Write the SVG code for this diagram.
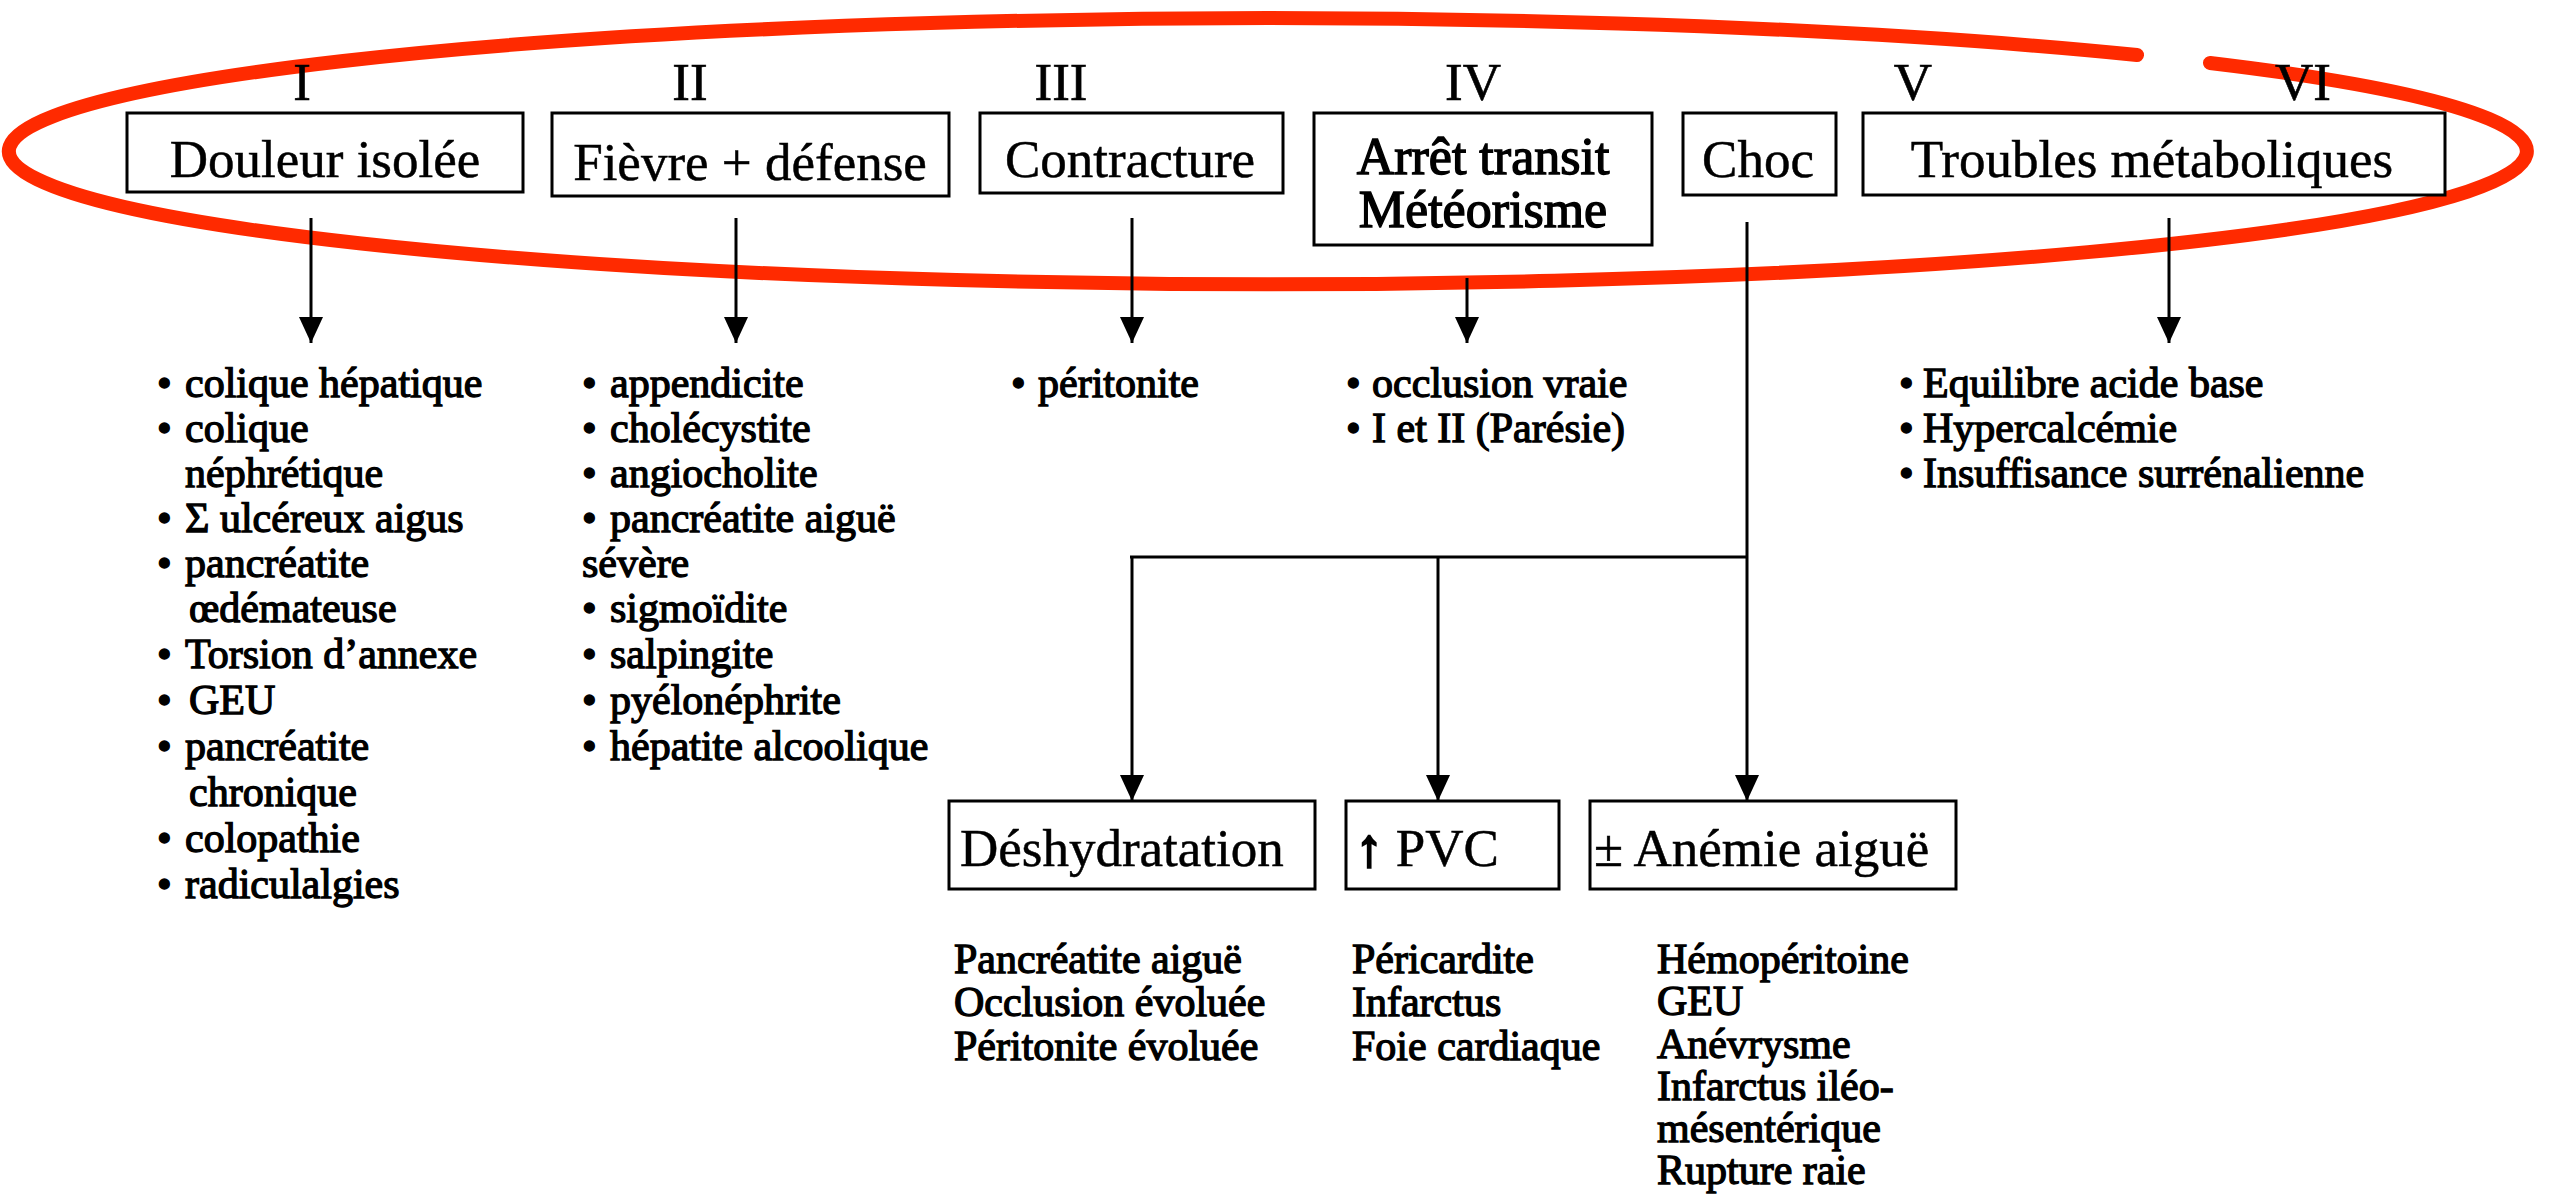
<svg xmlns="http://www.w3.org/2000/svg" width="2556" height="1196" viewBox="0 0 2556 1196">
<defs>
<style>
.box{fill:#fff;stroke:#000;stroke-width:3}
.lbl{font-family:"Liberation Serif","Times New Roman",serif;font-size:53px;fill:#000;stroke:#000;stroke-width:0.5}
.lblb{font-family:"Liberation Serif","Times New Roman",serif;font-size:52px;fill:#000;stroke:#000;stroke-width:1.4}
.num{font-family:"Liberation Serif","Times New Roman",serif;font-size:53px;fill:#000;text-anchor:middle;stroke:#000;stroke-width:0.6}
.lst{font-family:"Liberation Serif","Times New Roman",serif;font-size:42px;fill:#000;stroke:#000;stroke-width:1.3}
.con{fill:none;stroke:#000;stroke-width:3}
</style>
<marker id="ah" markerUnits="userSpaceOnUse" markerWidth="26" markerHeight="26" viewBox="0 0 26 24" refX="26" refY="12" orient="auto">
<path d="M0,0 L26,12 L0,24 Z" fill="#000"/>
</marker>
</defs>
<rect width="2556" height="1196" fill="#fff"/>

<path id="ellipse" d="M 2137,55 A 1259 133 0 1 0 2210,63" fill="none" stroke="#ff2a00" stroke-width="14" stroke-linecap="round"/>

<g id="numerals">
<text class="num" x="302" y="100">I</text>
<text class="num" x="690" y="100">II</text>
<text class="num" x="1061" y="100">III</text>
<text class="num" x="1473" y="100">IV</text>
<text class="num" x="1913" y="100">V</text>
<text class="num" x="2303" y="100">VI</text>
</g>

<g id="connectors">
<line class="con" x1="311" y1="218" x2="311" y2="343" marker-end="url(#ah)"/>
<line class="con" x1="736" y1="218" x2="736" y2="343" marker-end="url(#ah)"/>
<line class="con" x1="1132" y1="218" x2="1132" y2="343" marker-end="url(#ah)"/>
<line class="con" x1="1467" y1="278" x2="1467" y2="343" marker-end="url(#ah)"/>
<line class="con" x1="2169" y1="218" x2="2169" y2="343" marker-end="url(#ah)"/>
<line class="con" x1="1747" y1="222" x2="1747" y2="801" marker-end="url(#ah)"/>
<line class="con" x1="1130" y1="557" x2="1747" y2="557" stroke-width="4"/>
<line class="con" x1="1132" y1="557" x2="1132" y2="801" marker-end="url(#ah)"/>
<line class="con" x1="1438" y1="557" x2="1438" y2="801" marker-end="url(#ah)"/>
</g>

<g id="n-douleur">
<rect class="box" x="127" y="113" width="396" height="79"/>
<text class="lbl" x="325" y="177" text-anchor="middle">Douleur isolée</text>
</g>
<g id="n-fievre">
<rect class="box" x="552" y="113" width="397" height="83"/>
<text class="lbl" x="750" y="180" text-anchor="middle">Fièvre + défense</text>
</g>
<g id="n-contracture">
<rect class="box" x="980" y="113" width="303" height="80"/>
<text class="lbl" x="1130" y="177" text-anchor="middle">Contracture</text>
</g>
<g id="n-arret">
<rect class="box" x="1314" y="113" width="338" height="132"/>
<text class="lblb" x="1483" y="174" text-anchor="middle">Arrêt transit</text>
<text class="lblb" x="1483" y="227" text-anchor="middle">Météorisme</text>
</g>
<g id="n-choc">
<rect class="box" x="1683" y="113" width="153" height="82"/>
<text class="lbl" x="1758" y="177" text-anchor="middle">Choc</text>
</g>
<g id="n-troubles">
<rect class="box" x="1863" y="113" width="582" height="82"/>
<text class="lbl" x="2152" y="177" text-anchor="middle">Troubles métaboliques</text>
</g>

<g id="list-I">
<text class="lst" x="157" y="397">•<tspan x="185">colique hépatique</tspan></text>
<text class="lst" x="157" y="442">•<tspan x="185">colique</tspan></text>
<text class="lst" x="185" y="487">néphrétique</text>
<text class="lst" x="157" y="532">•<tspan x="185">Σ ulcéreux aigus</tspan></text>
<text class="lst" x="157" y="577">•<tspan x="185">pancréatite</tspan></text>
<text class="lst" x="189" y="622">œdémateuse</text>
<text class="lst" x="157" y="668">•<tspan x="185">Torsion d’annexe</tspan></text>
<text class="lst" x="157" y="714">•<tspan x="189">GEU</tspan></text>
<text class="lst" x="157" y="760">•<tspan x="185">pancréatite</tspan></text>
<text class="lst" x="189" y="806">chronique</text>
<text class="lst" x="157" y="852">•<tspan x="185">colopathie</tspan></text>
<text class="lst" x="157" y="898">•<tspan x="185">radiculalgies</tspan></text>
</g>

<g id="list-II">
<text class="lst" x="582" y="397">•<tspan x="610">appendicite</tspan></text>
<text class="lst" x="582" y="442">•<tspan x="610">cholécystite</tspan></text>
<text class="lst" x="582" y="487">•<tspan x="610">angiocholite</tspan></text>
<text class="lst" x="582" y="532">•<tspan x="610">pancréatite aiguë</tspan></text>
<text class="lst" x="582" y="577">sévère</text>
<text class="lst" x="582" y="622">•<tspan x="610">sigmoïdite</tspan></text>
<text class="lst" x="582" y="668">•<tspan x="610">salpingite</tspan></text>
<text class="lst" x="582" y="714">•<tspan x="610">pyélonéphrite</tspan></text>
<text class="lst" x="582" y="760">•<tspan x="610">hépatite alcoolique</tspan></text>
</g>

<g id="list-III">
<text class="lst" x="1011" y="397">•<tspan x="1038">péritonite</tspan></text>
</g>

<g id="list-IV">
<text class="lst" x="1346" y="397">•<tspan x="1372">occlusion vraie</tspan></text>
<text class="lst" x="1346" y="442">•<tspan x="1372">I et II (Parésie)</tspan></text>
</g>

<g id="list-VI">
<text class="lst" x="1899" y="397">•<tspan x="1923">Equilibre acide base</tspan></text>
<text class="lst" x="1899" y="442">•<tspan x="1923">Hypercalcémie</tspan></text>
<text class="lst" x="1899" y="487">•<tspan x="1923">Insuffisance surrénalienne</tspan></text>
</g>

<g id="n-deshydratation">
<rect class="box" x="949" y="801" width="366" height="88"/>
<text class="lbl" x="960" y="866">Déshydratation</text>
</g>
<g id="n-pvc">
<rect class="box" x="1346" y="801" width="213" height="88"/>
<text class="lbl" x="1356" y="866"><tspan stroke-width="2.5">↑</tspan> PVC</text>
</g>
<g id="n-anemie">
<rect class="box" x="1590" y="801" width="366" height="88"/>
<text class="lbl" x="1594" y="866">± Anémie aiguë</text>
</g>

<g id="list-desh">
<text class="lst" x="954" y="973">Pancréatite aiguë</text>
<text class="lst" x="954" y="1016">Occlusion évoluée</text>
<text class="lst" x="954" y="1060">Péritonite évoluée</text>
</g>
<g id="list-pvc">
<text class="lst" x="1352" y="973">Péricardite</text>
<text class="lst" x="1352" y="1016">Infarctus</text>
<text class="lst" x="1352" y="1060">Foie cardiaque</text>
</g>
<g id="list-anemie">
<text class="lst" x="1657" y="973">Hémopéritoine</text>
<text class="lst" x="1657" y="1015">GEU</text>
<text class="lst" x="1657" y="1058">Anévrysme</text>
<text class="lst" x="1657" y="1100">Infarctus iléo-</text>
<text class="lst" x="1657" y="1142">mésentérique</text>
<text class="lst" x="1657" y="1184">Rupture raie</text>
</g>
</svg>
